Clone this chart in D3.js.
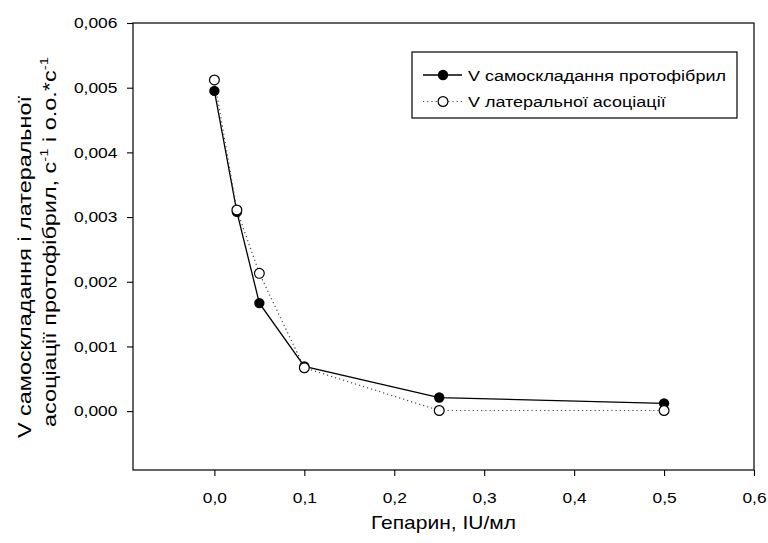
<!DOCTYPE html>
<html><head><meta charset="utf-8">
<script src="https://cdn.jsdelivr.net/npm/d3@7"></script>
<style>body{margin:0;background:#fff}svg{display:block}text{font-family:"Liberation Sans",Arial,sans-serif;fill:#000}</style>
</head><body>
<svg id="c" width="768" height="543"></svg>
<script>
const heparin = [0, 0.025, 0.05, 0.1, 0.25, 0.5];
const vSelfAssembly = [0.00495, 0.00308, 0.00167, 0.00069, 0.00021, 0.00012];
const vLateral = [0.00512, 0.00311, 0.00213, 0.00067, 0.00001, 0.00001];
const xTicks = [0, 0.1, 0.2, 0.3, 0.4, 0.5, 0.6];
const yTicks = [0, 0.001, 0.002, 0.003, 0.004, 0.005, 0.006];
const seriesNames = ["V самоскладання протофібрил", "V латеральної асоціації"];

const SX = 1.2; // horizontal glyph stretch seen in the reference
const svg = d3.select("#c");
const L = 133, R = 754, T = 23, B = 470;
const x = d3.scaleLinear().domain([-0.0905, 0.6]).range([L, R]);
const y = d3.scaleLinear().domain([-0.00091, 0.006]).range([B, T]);
const fmtX = d3.format(".1f"), fmtY = d3.format(".3f");

svg.append("g").attr("transform", `translate(0,${B})`)
  .call(d3.axisBottom(x).tickValues(xTicks).tickSizeOuter(0).tickSize(6).tickPadding(17).tickFormat(d => fmtX(d).replace(".", ",")))
  .call(g => g.select(".domain").remove())
  .call(g => g.selectAll("line").attr("stroke-width", 1.1))
  .call(g => g.selectAll("text").attr("font-size", 14.5).attr("font-family", "Liberation Sans, Arial, sans-serif")
    .attr("transform", `scale(${SX},1)`));
svg.append("g").attr("transform", `translate(${L},0)`)
  .call(d3.axisLeft(y).tickValues(yTicks).tickSizeOuter(0).tickSize(6).tickPadding(7).tickFormat(d => fmtY(d).replace(".", ",")))
  .call(g => g.select(".domain").remove())
  .call(g => g.selectAll("line").attr("stroke-width", 1.1))
  .call(g => g.selectAll("text").attr("font-size", 14.5).attr("font-family", "Liberation Sans, Arial, sans-serif")
    .attr("transform", `scale(${SX},1)`));

svg.append("rect").attr("x", L).attr("y", T).attr("width", R - L).attr("height", B - T)
  .attr("fill", "none").attr("stroke", "#000").attr("stroke-width", 1.2);

const line = d3.line().x(d => x(d[0])).y(d => y(d[1]));
const s1 = heparin.map((h, i) => [h, vSelfAssembly[i]]);
const s2 = heparin.map((h, i) => [h, vLateral[i]]);

svg.append("path").datum(s1).attr("d", line).attr("fill", "none").attr("stroke", "#000").attr("stroke-width", 1.3);
svg.append("path").datum(s2).attr("d", line).attr("fill", "none").attr("stroke", "#444").attr("stroke-width", 1.2).attr("stroke-dasharray", "1.2,3");
svg.selectAll("circle.s1").data(s1).join("circle").attr("class", "s1")
  .attr("cx", d => x(d[0])).attr("cy", d => y(d[1])).attr("r", 5.2).attr("fill", "#000");
svg.selectAll("circle.s2").data(s2).join("circle").attr("class", "s2")
  .attr("cx", d => x(d[0])).attr("cy", d => y(d[1])).attr("r", 4.9).attr("fill", "#fff").attr("stroke", "#000").attr("stroke-width", 1.2);

// legend
const lg = svg.append("g");
lg.append("rect").attr("x", 412).attr("y", 52).attr("width", 325).attr("height", 66)
  .attr("fill", "#fff").attr("stroke", "#000").attr("stroke-width", 1.2);
[0, 1].forEach(i => {
  const yy = 75 + i * 26.5;
  lg.append("line").attr("x1", 423).attr("x2", 462).attr("y1", yy).attr("y2", yy)
    .attr("stroke", i ? "#444" : "#000").attr("stroke-width", i ? 1.2 : 1.3).attr("stroke-dasharray", i ? "1.2,3" : null);
  lg.append("circle").attr("cx", 443).attr("cy", yy).attr("r", i ? 4.9 : 5.2)
    .attr("fill", i ? "#fff" : "#000").attr("stroke", "#000").attr("stroke-width", i ? 1.2 : 0);
  lg.append("text").attr("transform", `translate(468,${yy + 5.5}) scale(${SX},1)`).attr("font-size", 15).text(seriesNames[i]);
});

// axis titles
svg.append("text").attr("transform", `translate(${(L + R) / 2},529) scale(${SX},1)`).attr("text-anchor", "middle")
  .attr("font-size", 17.5).text("Гепарин, IU/мл");
svg.append("text").attr("transform", `translate(31,267) rotate(-90)`).attr("text-anchor", "middle")
  .attr("font-size", 18).attr("textLength", 342).attr("lengthAdjust", "spacingAndGlyphs")
  .text("V самоскладання і латеральної");
const t2 = svg.append("text").attr("transform", `translate(56,242) rotate(-90)`).attr("text-anchor", "middle")
  .attr("font-size", 18).attr("textLength", 370).attr("lengthAdjust", "spacingAndGlyphs");
t2.append("tspan").text("асоціації протофібрил, с");
t2.append("tspan").attr("font-size", 11.5).attr("dy", -8).text("-1");
t2.append("tspan").attr("dy", 8).text(" і о.о.*с");
t2.append("tspan").attr("font-size", 11.5).attr("dy", -8).text("-1");
</script>
</body></html>
